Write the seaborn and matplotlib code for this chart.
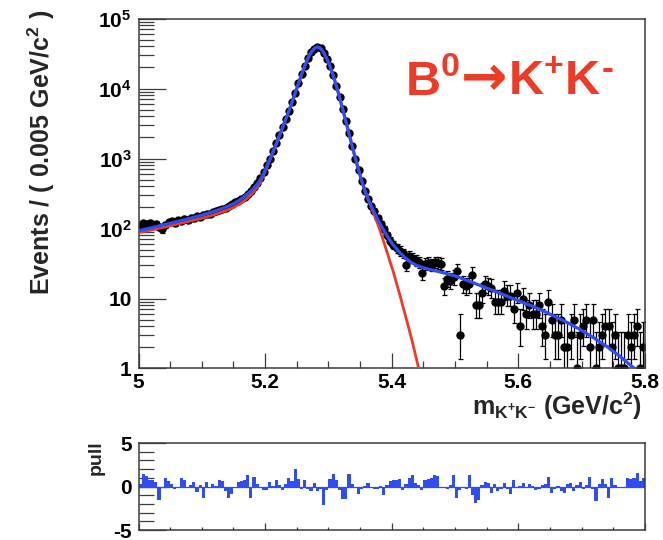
import numpy as np
import pandas as pd
import matplotlib
matplotlib.use("Agg")
import matplotlib.pyplot as plt
from matplotlib.ticker import (LogLocator, MultipleLocator, FixedLocator,
                               FuncFormatter, NullFormatter)
import seaborn as sns

# ---- binning of the K+K- invariant mass spectrum ----
mass_lo, mass_hi = 5.0, 5.8
bin_width = 0.005
n_bins = 160

# events per bin
counts = [
    108, 118, 115, 119, 112, 117, 106, 97, 114, 122,
    126, 121, 131, 128, 136, 133, 142, 139, 150, 146,
    157, 163, 159, 170, 176, 181, 190, 199, 212, 221,
    236, 244, 265, 286, 315, 345, 392, 446, 520, 640,
    800, 1000, 1280, 1650, 2150, 2800, 3650, 4800, 6400, 8600,
    11800, 16000, 21200, 27200, 33000, 37300, 39500, 37700, 32600, 26800,
    20800, 15600, 11000, 7600, 5100, 3450, 2300, 1500, 1000, 680,
    470, 345, 268, 212, 175, 142, 115, 98, 80, 67,
    58, 52, 48, 44, 30, 40, 38, 35, 33, 23,
    31, 32, 30, 33, 32, 31, 15, 19, 18, 20,
    25, 3, 16, 15, 16, 22, 8, 8, 12, 16,
    15, 14, 9, 9, 9, 13, 11, 11, 7, 12,
    4, 10, 6, 8, 6, 6, 8, 4, 3, 9,
    5, 3, 3, 5, 2, 2, 3, 5, 1, 3,
    4, 5, 2, 5, 1, 2, 3, 4, 4, 2,
    3, 1, 1, 1, 3, 2, 3, 4, 1, 2,
]

# fit residuals (pull) per bin
pulls = [
    0.3, 1.4, 1.2, 0.8, 0.7, 0.5, -1.5, -0.2, 1.0, 0.6,
    0.3, -0.3, -0.2, 1.0, 0.8, -0.2, 0.2, 0.5, -0.6, 0.2,
    -1.3, 0.5, -0.2, 0.3, 0.1, 0.8, 0.6, -0.5, -1.3, -0.9,
    -0.2, 0.5, 0.6, 0.8, 1.3, -1.3, 1.1, 0.3, -0.2, -0.4,
    -0.4, 0.5, 0.1, 0.7, 0.2, -0.4, 0.3, 1.0, 0.6, 2.0,
    0.9, -0.3, 0.8, -0.3, -0.5, 0.4, -0.5, -0.3, -2.1, -0.4,
    0.9, 1.4, 0.8, -0.4, -1.4, -1.4, 1.4, 0.3, -0.2, -0.9,
    -0.3, 0.1, 0.4, -0.2, -0.3, -0.3, 0.1, -1.0, 0.2, 0.6,
    0.7, 0.7, 0.9, -0.4, 0.3, 1.0, 1.3, 0.4, 0.2, -0.4,
    0.8, 0.9, 1.0, 1.3, 1.2, -0.1, -0.2, -0.3, 0.2, 1.3,
    -1.3, -0.4, -0.2, -0.3, 1.3, -1.0, -1.9, -1.6, 0.2, 0.5,
    0.4, -0.7, 0.3, -0.5, -0.3, 0.4, -0.3, -0.9, 0.8, -0.2,
    0.1, 0.4, -0.2, 0.3, 0.1, -0.4, -0.3, 0.2, 0.3, 1.1,
    -0.7, -0.3, 0.1, -0.5, -0.7, 0.3, 0.4, -0.5, 0.2, 0.5,
    -0.3, 0.2, 1.1, -0.3, -1.7, 0.3, 0.9, 0.3, -1.3, 1.0,
    0.2, -0.1, -0.1, -0.1, 1.0, 0.9, 1.0, 1.6, 0.6, 1.0,
]

# total fit model (signal + misidentified background)
total_mass = [
    5.000, 5.020, 5.040, 5.060, 5.080, 5.100, 5.120, 5.140, 5.150, 5.160,
    5.170, 5.180, 5.1875, 5.1925, 5.1975, 5.2025, 5.2075, 5.2125, 5.2175, 5.2225,
    5.2275, 5.2325, 5.2375, 5.2425, 5.2475, 5.2525, 5.2575, 5.2625, 5.2675, 5.2725,
    5.2775, 5.2825, 5.2875, 5.2925, 5.2975, 5.3025, 5.3075, 5.3125, 5.3175, 5.3225,
    5.3275, 5.3325, 5.3375, 5.3425, 5.3475, 5.3525, 5.3575, 5.3625, 5.3675, 5.3725,
    5.3775, 5.3825, 5.3875, 5.3925, 5.3975, 5.4025, 5.410, 5.420, 5.430, 5.440,
    5.450, 5.460, 5.480, 5.500, 5.520, 5.540, 5.560, 5.580, 5.600, 5.620,
    5.640, 5.660, 5.680, 5.700, 5.720, 5.740, 5.760, 5.780, 5.800,
]
total_events = [
    93, 102, 113, 125, 139, 155, 176, 205, 226, 256,
    300, 360, 430, 500, 610, 770, 980, 1260, 1630, 2130,
    2780, 3640, 4800, 6400, 8600, 11700, 15800, 21000, 27000, 32800,
    37200, 39200, 37600, 32700, 26700, 20700, 15400, 10900, 7500, 5050,
    3400, 2270, 1510, 1010, 690, 480, 350, 268, 212, 170,
    138, 113, 94, 79, 67, 58, 48, 39, 33, 29.5,
    27.5, 26, 23.5, 21, 18, 15.3, 13, 11, 9.3, 7.9,
    6.6, 5.4, 4.4, 3.5, 2.7, 2.05, 1.5, 1.06, 0.75,
]

# B0 -> K+K- signal component
signal_mass = [
    5.000, 5.040, 5.080, 5.100, 5.120, 5.140, 5.150, 5.160, 5.170, 5.180,
    5.1875, 5.1925, 5.1975, 5.2025, 5.2075, 5.2125, 5.2175, 5.2225, 5.2275, 5.2325,
    5.2375, 5.2425, 5.2475, 5.2525, 5.2575, 5.2625, 5.2675, 5.2725, 5.2775, 5.2825,
    5.2875, 5.2925, 5.2975, 5.3025, 5.3075, 5.3125, 5.3175, 5.3225, 5.3275, 5.3325,
    5.3375, 5.3425, 5.3475, 5.3525, 5.3575, 5.3625, 5.3675, 5.3725, 5.3775, 5.3825,
    5.3875, 5.3925, 5.3975, 5.4025, 5.4075, 5.4125, 5.4175, 5.4225, 5.4275, 5.4325,
    5.4375, 5.4425, 5.4475,
]
signal_events = [
    87, 104, 127, 140, 158, 183, 200, 225, 262, 320,
    390, 460, 575, 735, 945, 1225, 1595, 2095, 2750, 3610,
    4770, 6370, 8570, 11670, 15770, 20970, 26970, 32770, 37170, 39170,
    37570, 32670, 26670, 20670, 15370, 10870, 7470, 5020, 3370, 2240,
    1495, 1000, 684, 474, 344, 262, 200, 155, 118, 88,
    64, 46, 33, 24, 16.5, 11.5, 7.8, 5.3, 3.6, 2.4,
    1.55, 1.0, 0.65,
]

centers = mass_lo + bin_width * (np.arange(n_bins) + 0.5)
n = np.asarray(counts, dtype=float)
# 68% Poisson interval (Wilson-Hilferty approximation)
lo_edge = n * (1.0 - 1.0 / (9.0 * n) - 1.0 / (3.0 * np.sqrt(n))) ** 3
hi_edge = (n + 1) * (1.0 - 1.0 / (9.0 * (n + 1)) + 1.0 / (3.0 * np.sqrt(n + 1))) ** 3
err_lo = n - lo_edge
err_hi = hi_edge - n

data = pd.DataFrame({"mass": centers, "events": n, "pull": pulls})
total_df = pd.DataFrame({"mass": total_mass, "events": total_events})
signal_df = pd.DataFrame({"mass": signal_mass, "events": signal_events})

# ---- style ----
sns.set_theme(style="white")
plt.rcParams["font.family"] = ["Liberation Sans", "DejaVu Sans"]
plt.rcParams["font.weight"] = "bold"
plt.rcParams["mathtext.fontset"] = "custom"
plt.rcParams["mathtext.rm"] = "Liberation Sans:bold"
plt.rcParams["mathtext.it"] = "Liberation Sans:bold"
plt.rcParams["mathtext.bf"] = "Liberation Sans:bold"
plt.rcParams["axes.unicode_minus"] = False

BLUE = "#2f4df2"
RED = "#ee3b28"
FRAME = "#3c3c3c"

fig = plt.figure(figsize=(6.63, 5.40), dpi=100)
fig.patch.set_facecolor("white")

# ---- main mass panel ----
ax = fig.add_axes([0.2089, 0.3176, 0.7640, 0.6481])
ax.errorbar(data["mass"], data["events"], yerr=[err_lo, err_hi], fmt="none",
            ecolor="black", elinewidth=0.9, capsize=1.8, capthick=0.9, zorder=2)
ax.errorbar(data["mass"], data["events"], xerr=bin_width / 2, fmt="o",
            ms=5.0, color="black", mec="black", ecolor="black",
            elinewidth=0.9, capsize=0, zorder=2)
sns.lineplot(data=signal_df, x="mass", y="events", color=RED, lw=2.0,
             estimator=None, sort=False, ax=ax, zorder=3)
sns.lineplot(data=total_df, x="mass", y="events", color=BLUE, lw=2.3,
             estimator=None, sort=False, ax=ax, zorder=4)

ax.set_yscale("log")
ax.set_xlim(mass_lo, mass_hi)
ax.set_ylim(1, 1e5)
ax.set_xlabel("")
ax.set_ylabel("")

def log_label(v, pos):
    if v < 1.5:
        return "1"
    if v < 15:
        return "10"
    return r"$10^{%d}$" % int(round(np.log10(v)))

ax.yaxis.set_major_locator(LogLocator(base=10, numticks=10))
ax.yaxis.set_minor_locator(LogLocator(base=10, subs=np.arange(2, 10), numticks=20))
ax.yaxis.set_major_formatter(FuncFormatter(log_label))
ax.yaxis.set_minor_formatter(NullFormatter())
ax.xaxis.set_major_locator(MultipleLocator(0.2))
ax.xaxis.set_minor_locator(MultipleLocator(0.05))
ax.xaxis.set_major_formatter(FuncFormatter(lambda v, p: "5" if abs(v - 5) < 1e-6 else f"{v:.1f}"))

ax.tick_params(axis="both", which="both", direction="in", top=False, right=False,
               left=True, bottom=True,
               color=FRAME, width=0.9, labelsize=15, labelcolor="black")
ax.tick_params(axis="y", which="major", length=19.5, pad=5)
ax.tick_params(axis="y", which="minor", length=10.5)
ax.tick_params(axis="x", which="major", length=10.8, pad=3)
ax.tick_params(axis="x", which="minor", length=5.2)
for sp in ax.spines.values():
    sp.set_color(FRAME)
    sp.set_linewidth(1.1)

# ---- pull panel ----
axp = fig.add_axes([0.2089, 0.0185, 0.7640, 0.1611])
axp.bar(data["mass"], data["pull"], width=bin_width, color=BLUE, linewidth=0, zorder=2)
axp.axhline(0, color=BLUE, lw=0.9, zorder=2)
axp.set_xlim(mass_lo, mass_hi)
axp.set_ylim(-5, 5)
axp.yaxis.set_major_locator(FixedLocator([-5, 0, 5]))
axp.yaxis.set_minor_locator(MultipleLocator(1))
axp.yaxis.set_major_formatter(FuncFormatter(lambda v, p: f"{int(v)}"))
axp.xaxis.set_major_locator(MultipleLocator(0.2))
axp.xaxis.set_minor_locator(MultipleLocator(0.05))
axp.xaxis.set_major_formatter(NullFormatter())
axp.tick_params(axis="both", which="both", direction="in", top=False, right=False,
                left=True, bottom=True,
                color=FRAME, width=0.9, labelsize=15, labelcolor="black")
axp.tick_params(axis="y", which="major", length=19.5, pad=5)
axp.tick_params(axis="y", which="minor", length=10.5)
axp.tick_params(axis="x", which="major", length=5.0)
axp.tick_params(axis="x", which="minor", length=2.5)
for sp in axp.spines.values():
    sp.set_color(FRAME)
    sp.set_linewidth(1.1)

# ---- titles ----
fig.text(0.062, 0.981, r"Events / ( 0.005 GeV/c$^{2}$ )", rotation=90,
         ha="center", va="top", fontsize=18, fontweight="bold")
fig.text(0.968, 0.2315, r"m$_{\mathbf{K^{+}K^{-}}}$ (GeV/c$^{2}$)",
         ha="right", va="baseline", fontsize=18, fontweight="bold")
fig.text(0.145, 0.185, "pull", rotation=90, ha="center", va="top",
         fontsize=14, fontweight="bold")

# decay label, set piece by piece so the arrow can use a heavier glyph
renderer = fig.canvas.get_renderer()
x_cursor = 405.0
base_y = 0.824
pieces = [
    ("B$^{0}$", dict(fontsize=35, family=["Liberation Sans"]), 0.0),
    ("\u2192", dict(fontsize=40, family=["DejaVu Sans"]), 0.0),
    ("K$^{+}$K", dict(fontsize=35, family=["Liberation Sans"]), 0.0),
    ("-", dict(fontsize=26, family=["Liberation Sans"]), 0.030),
]
for txt, kw, dy in pieces:
    t = fig.text(x_cursor / 663, base_y + dy, txt, color=RED, ha="left",
                 va="baseline", fontweight="bold", **kw)
    bb = t.get_window_extent(renderer=renderer)
    x_cursor = bb.x1 + 0.5

fig.savefig("out.png", dpi=100, facecolor="white")
